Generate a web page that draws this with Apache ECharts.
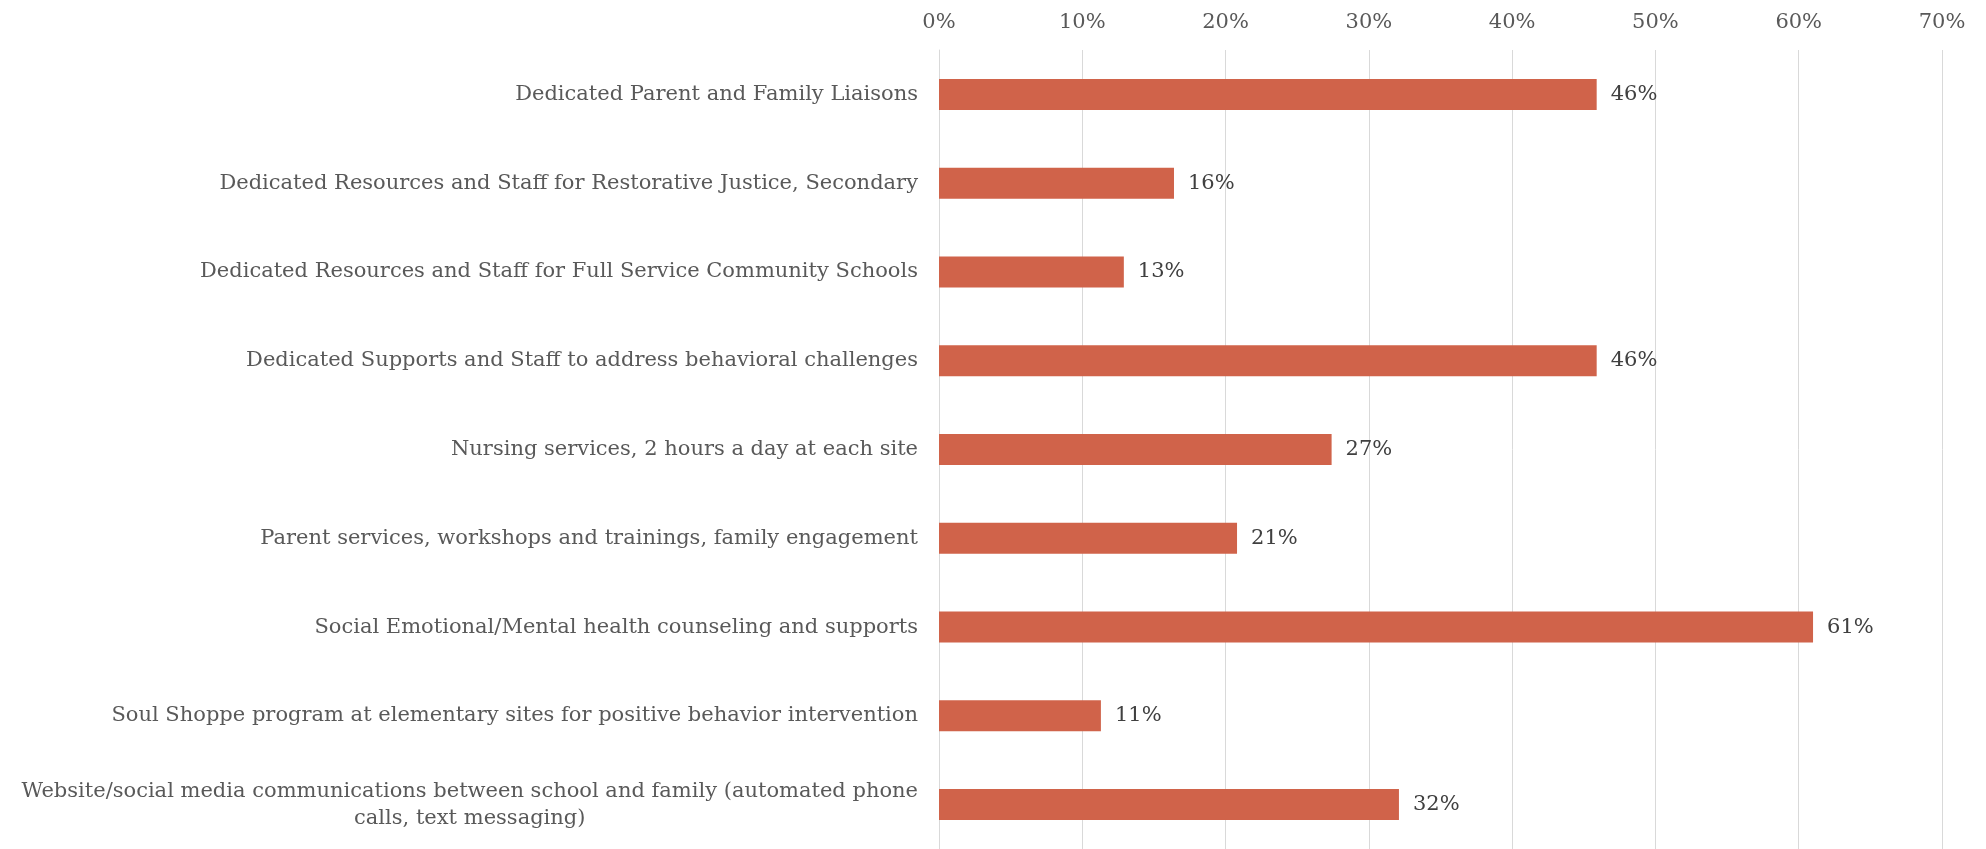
<!DOCTYPE html>
<html>
<head>
<meta charset="utf-8">
<script src="https://cdn.jsdelivr.net/npm/echarts@6/dist/echarts.min.js"></script>
<style>
html,body{margin:0;padding:0;background:#fff;}
#chart{width:1986px;height:849px;}
</style>
</head>
<body>
<div id="chart"></div>
<script>
const categories = [
  "Dedicated Parent and Family Liaisons",
  "Dedicated Resources and Staff for Restorative Justice, Secondary",
  "Dedicated Resources and Staff for Full Service Community Schools",
  "Dedicated Supports and Staff to address behavioral challenges",
  "Nursing services, 2 hours a day at each site",
  "Parent services, workshops and trainings, family engagement",
  "Social Emotional/Mental health counseling and supports",
  "Soul Shoppe program at elementary sites for positive behavior intervention",
  "Website/social media communications between school and family (automated phone\ncalls, text messaging)"
];
const values = [45.9, 16.4, 12.9, 45.9, 27.4, 20.8, 61.0, 11.3, 32.1];
const axisMin = 0;
const axisMax = 70;
const axisInterval = 10;

const FONT = "'DejaVu Serif', serif";
const chart = echarts.init(document.getElementById('chart'));
chart.setOption({
  animation: false,
  backgroundColor: '#ffffff',
  grid: { left: 939, right: 44, top: 50, height: 801 },
  xAxis: {
    type: 'value',
    position: 'top',
    min: axisMin, max: axisMax, interval: axisInterval,
    axisLine: { show: false },
    axisTick: { show: false },
    axisLabel: { formatter: '{value}%', color: '#595959', fontFamily: FONT, fontSize: 21, margin: 17 },
    splitLine: { show: true, lineStyle: { color: '#d9d9d9', width: 1 } }
  },
  yAxis: {
    type: 'category',
    inverse: true,
    data: categories,
    axisLine: { show: true, lineStyle: { color: '#d9d9d9', width: 1 } },
    axisTick: { show: false },
    axisLabel: {
      color: '#595959', fontFamily: FONT, fontSize: 21, margin: 21, lineHeight: 27,
      formatter: function (v) { return '{c|' + v + '}'; },
      rich: { c: { align: 'center', color: '#595959', fontFamily: FONT, fontSize: 21, lineHeight: 27 } }
    }
  },
  series: [{
    type: 'bar',
    data: values,
    barWidth: 31,
    itemStyle: { color: '#D0634A' },
    label: {
      show: true, position: 'right', distance: 14,
      color: '#404040', fontFamily: FONT, fontSize: 21,
      formatter: function (p) { return Math.round(p.value) + '%'; }
    }
  }]
});
</script>
</body>
</html>
